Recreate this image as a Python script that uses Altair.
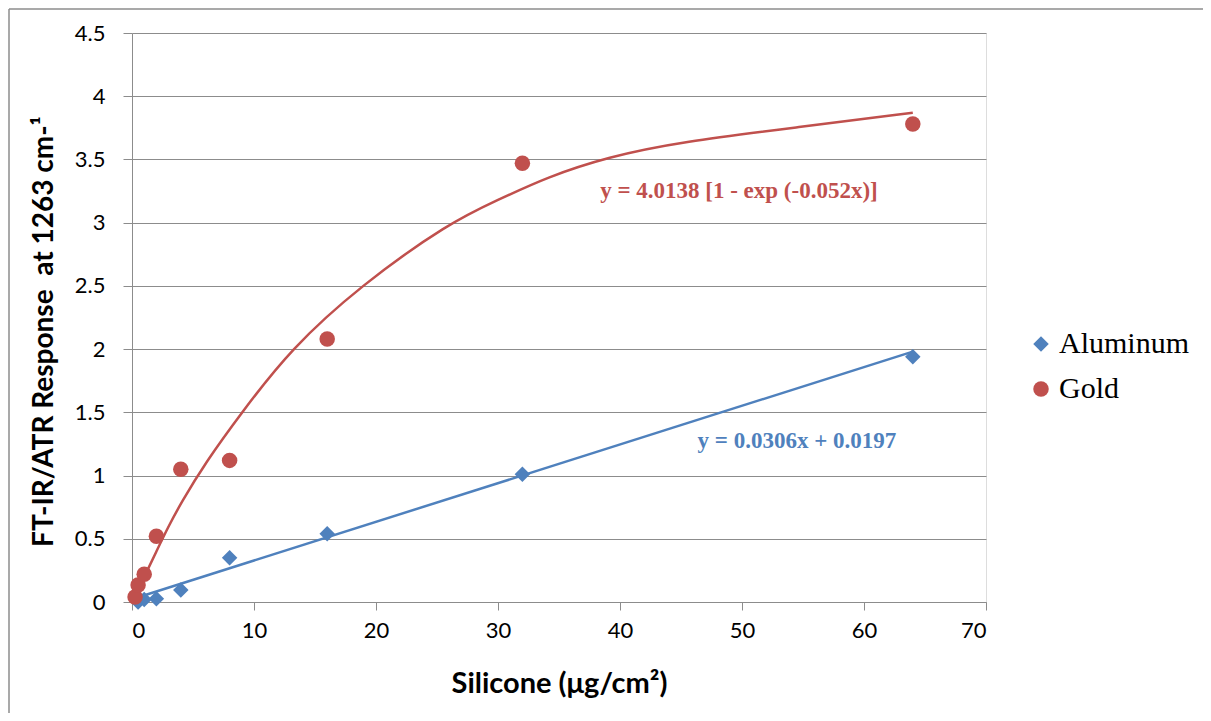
import altair as alt
import pandas as pd

# ---- data ----
al_x = [0.5, 1, 2, 4, 8, 16, 32, 64]
al_y = [0.0, 0.02, 0.025, 0.095, 0.35, 0.54, 1.01, 1.94]
au_x = [0.25, 0.5, 1, 2, 4, 8, 16, 32, 64]
au_y = [0.04, 0.135, 0.22, 0.52, 1.05, 1.12, 2.08, 3.47, 3.78]

# trend lines
al_fit_x = [0.25, 64]
al_fit_y = [0.03, 1.98]
au_fit_x = [0.25, 1, 2, 3, 4, 6, 9, 13, 18.7, 26, 30, 34, 39, 45, 55, 64]
au_fit_y = [0.04, 0.2, 0.4, 0.6, 0.78, 1.1, 1.5, 2.0, 2.5, 3.0, 3.18, 3.36, 3.52, 3.64, 3.76, 3.87]

series_names = ["Aluminum", "Gold"]
eq_labels = ["y = 0.0306x + 0.0197", "y = 4.0138 [1 - exp (-0.052x)]"]
eq_x = [54.5, 49.75]
eq_y = [1.27, 3.25]

x_ticks = [0, 10, 20, 30, 40, 50, 60, 70]
y_ticks = [0, 0.5, 1, 1.5, 2, 2.5, 3, 3.5, 4, 4.5]

BLUE = "#4F81BD"
RED = "#C0504D"
GRID = "#8c8c8c"
TICKFONT = "Lato"

pts = pd.DataFrame(
    {"x": al_x + au_x, "y": al_y + au_y,
     "series": [series_names[0]] * len(al_x) + [series_names[1]] * len(au_x)}
)
al_fit = pd.DataFrame({"x": al_fit_x, "y": al_fit_y})
au_fit = pd.DataFrame({"x": au_fit_x, "y": au_fit_y})
eq_al = pd.DataFrame({"x": [eq_x[0]], "y": [eq_y[0]], "t": [eq_labels[0]]})
eq_au = pd.DataFrame({"x": [eq_x[1]], "y": [eq_y[1]], "t": [eq_labels[1]]})

xscale = alt.Scale(domain=[0, 70], nice=False, zero=False)
yscale = alt.Scale(domain=[0, 4.5], nice=False)

xaxis = alt.Axis(
    values=x_ticks, title="Silicone (μg/cm²)", grid=False,
    labelFont=TICKFONT, labelFontSize=22, labelColor="#000000", labelPadding=10,
    tickSize=8, tickColor=GRID, domainColor=GRID,
    titleFont=TICKFONT, titleFontSize=29, titleFontWeight="bold", titleColor="#000000",
    titleX=427, titleY=81, titleBaseline="middle", titleAlign="center",
)
yaxis = alt.Axis(
    values=y_ticks, format="~g", title="FT-IR/ATR Response\u00a0 at 1263 cm-¹",
    grid=True, gridColor=GRID, gridWidth=1,
    labelFont=TICKFONT, labelFontSize=22, labelColor="#000000", labelPadding=18,
    tickSize=9, tickColor=GRID, domainColor=GRID,
    titleFont=TICKFONT, titleFontSize=28, titleFontWeight="bold", titleColor="#000000",
    titleX=-88, titleY=298, titleAngle=-90, titleBaseline="middle", titleAlign="center",
)

frame_data = alt.Data(values=[{}])
frame_left = alt.Chart(frame_data).mark_rule(stroke="#8c8c8c", strokeWidth=1.5).encode(
    x=alt.value(-123), y=alt.value(-24), y2=alt.value(800)
)
frame_top = alt.Chart(frame_data).mark_rule(stroke="#8c8c8c", strokeWidth=1.5).encode(
    x=alt.value(-123), x2=alt.value(1200), y=alt.value(-24)
)

legend_opts = dict(title=None, orient="none", legendX=894, legendY=296,
                   labelFont="Liberation Serif", labelFontSize=30,
                   labelColor="#000000", symbolSize=240, labelOffset=3,
                   rowPadding=15, padding=0, symbolStrokeWidth=0)

al_line = alt.Chart(al_fit).mark_line(color=BLUE, strokeWidth=2.5).encode(
    x=alt.X("x:Q", scale=xscale, axis=xaxis),
    y=alt.Y("y:Q", scale=yscale, axis=yaxis),
)
au_line = alt.Chart(au_fit).mark_line(color=RED, strokeWidth=2.5, interpolate="basis").encode(
    x="x:Q", y="y:Q"
)

points = alt.Chart(pts).mark_point(filled=True, opacity=1, size=240).encode(
    x="x:Q", y="y:Q",
    color=alt.Color("series:N", scale=alt.Scale(domain=series_names, range=[BLUE, RED]),
                    legend=alt.Legend(**legend_opts)),
    shape=alt.Shape("series:N", scale=alt.Scale(domain=series_names, range=["diamond", "circle"]),
                    legend=alt.Legend(**legend_opts)),
)

t_al = alt.Chart(eq_al).mark_text(
    font="Liberation Serif", fontSize=23, fontWeight="bold", color=BLUE,
    align="center", baseline="middle"
).encode(x="x:Q", y="y:Q", text="t:N")
t_au = alt.Chart(eq_au).mark_text(
    font="Liberation Serif", fontSize=23, fontWeight="bold", color=RED,
    align="center", baseline="middle"
).encode(x="x:Q", y="y:Q", text="t:N")

chart = alt.layer(frame_left, frame_top, al_line, au_line, points, t_al, t_au).properties(
    width=854, height=569,
    autosize=alt.AutoSizeParams(type="none"),
    padding={"left": 124, "top": 25, "right": 217, "bottom": 111},
).configure_view(stroke=None).configure(background="white")

chart.save("out.html", embed_options={"renderer": "svg", "actions": False})
